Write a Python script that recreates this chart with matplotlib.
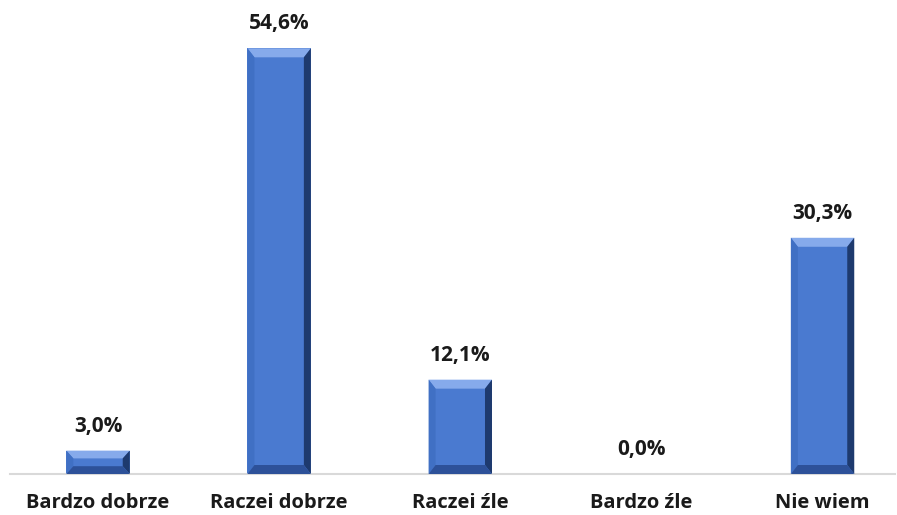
import matplotlib
matplotlib.use('Agg')
import matplotlib.pyplot as plt
from matplotlib.patches import Polygon

categories = ["Bardzo dobrze", "Raczei dobrze", "Raczei źle", "Bardzo źle", "Nie wiem"]
values = [3.0, 54.6, 12.1, 0.0, 30.3]
labels = ["3,0%", "54,6%", "12,1%", "0,0%", "30,3%"]

BASE = "#4A7AD0"
TOP = "#86AAEB"
LEFT = "#4070C4"
RIGHT = "#1E3A6E"
BOTTOM = "#2D5199"

plt.rcParams["font.family"] = ["Open Sans", "DejaVu Sans"]

fig = plt.figure(figsize=(8.97, 5.15), dpi=100)
ax = fig.add_axes([10 / 897, 41 / 515, 885 / 897, 474 / 515])
ax.set_xlim(-0.486, 4.40)
ax.set_ylim(0, 60.8)

x = list(range(len(categories)))
bars = ax.bar(x, values, width=0.35, color=BASE, edgecolor="none", zorder=2)

# bevel depths in data units (~9 px tall, ~7 px wide)
dy = 9 / 7.8
dx = 7 / 181.25
for b in bars:
    h = b.get_height()
    if h <= 0:
        continue
    x0, w = b.get_x(), b.get_width()
    x1 = x0 + w
    d_y = min(dy, h / 3)
    faces = [
        ([(x0, h), (x1, h), (x1 - dx, h - d_y), (x0 + dx, h - d_y)], TOP),
        ([(x0, 0), (x0, h), (x0 + dx, h - d_y), (x0 + dx, d_y)], LEFT),
        ([(x1, 0), (x1, h), (x1 - dx, h - d_y), (x1 - dx, d_y)], RIGHT),
        ([(x0, 0), (x1, 0), (x1 - dx, d_y), (x0 + dx, d_y)], BOTTOM),
    ]
    for pts, c in faces:
        ax.add_patch(Polygon(pts, closed=True, facecolor=c, edgecolor="none", zorder=3))

for xi, v, lab in zip(x, values, labels):
    ax.annotate(lab, (xi, v), xytext=(0, 10), textcoords="offset points",
                ha="center", va="bottom", fontsize=15, fontweight="bold", color="#1a1a1a")

ax.set_xticks(x)
ax.set_xticklabels(categories, fontsize=14.5, fontweight="bold", color="#1a1a1a")
ax.tick_params(axis="x", length=0, pad=14)
ax.set_yticks([])
for s in ["top", "right", "left"]:
    ax.spines[s].set_visible(False)
ax.spines["bottom"].set_color("#D9D9D9")
ax.spines["bottom"].set_linewidth(1.5)

fig.savefig("out.png", dpi=100)
